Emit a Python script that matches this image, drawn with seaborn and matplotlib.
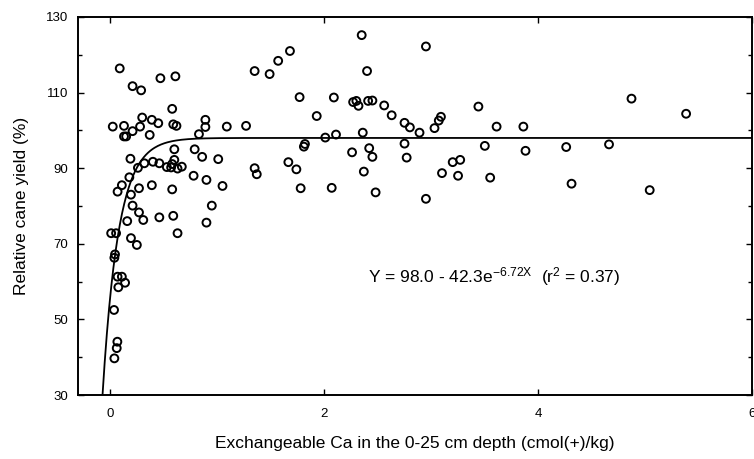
import numpy as np
import pandas as pd
import matplotlib
matplotlib.use("Agg")
import matplotlib.pyplot as plt
import seaborn as sns

# Exchangeable Ca (cmol(+)/kg) and relative cane yield (%) per site
ca_low = [0.09, 0.47, 0.61, 0.21, 0.29, 0.58, 0.025, 0.13, 0.13, 0.15,
          0.21, 0.28, 0.30, 0.39, 0.45, 0.37, 0.59, 0.62, 0.89, 0.89,
          0.83, 1.09, 1.27, 1.35, 0.19, 0.26, 0.32, 0.40, 0.46, 0.53,
          0.58, 0.60, 0.60, 0.63, 0.67, 0.79, 0.86, 1.01, 1.35, 1.37,
          0.07, 0.11, 0.195, 0.18, 0.27, 0.39, 0.58, 0.78, 0.90, 1.05,
          0.21, 0.27, 0.31, 0.16, 0.46, 0.59, 0.95, 0.90, 0.63, 0.01,
          0.056, 0.195, 0.25, 0.046, 0.04, 0.07, 0.11, 0.14, 0.077, 0.037,
          0.068, 0.062, 0.04, 0.57]
yield_low = [116.4, 113.8, 114.3, 111.7, 110.6, 105.7, 101.0, 101.2, 98.4, 98.4,
             99.8, 101.0, 103.4, 102.8, 101.9, 98.8, 101.6, 101.2, 102.8, 100.9,
             99.0, 101.0, 101.2, 115.7, 92.5, 90.1, 91.3, 91.7, 91.3, 90.3,
             91.1, 92.2, 95.0, 89.9, 90.4, 95.0, 93.0, 92.4, 90.0, 88.4,
             83.8, 85.5, 83.0, 87.6, 84.7, 85.5, 84.4, 88.0, 86.9, 85.3,
             80.1, 78.3, 76.3, 76.0, 77.0, 77.4, 80.1, 75.6, 72.8, 72.8,
             72.8, 71.5, 69.7, 67.2, 66.3, 61.3, 61.3, 59.7, 58.5, 52.5,
             44.1, 42.4, 39.7, 90.2]
ca_high = [1.49, 1.57, 1.68, 1.77, 1.93, 2.09, 2.27, 2.30, 2.32, 2.41,
           2.45, 2.35, 2.40, 2.56, 2.63, 2.75, 2.80, 2.89, 2.95, 3.03,
           3.07, 3.09, 3.44, 3.61, 2.01, 2.11, 2.36, 1.82, 1.81, 2.26,
           2.42, 2.45, 2.75, 2.77, 1.665, 1.74, 2.37, 3.20, 3.27, 3.10,
           3.25, 3.50, 3.55, 1.78, 2.07, 2.48, 2.95, 3.86, 3.88, 4.26,
           4.66, 4.87, 5.38, 4.31, 5.04]
yield_high = [114.9, 118.4, 121.0, 108.8, 103.8, 108.7, 107.5, 107.8, 106.5, 107.8,
              107.9, 125.2, 115.7, 106.6, 104.0, 102.0, 100.8, 99.4, 122.2, 100.6,
              102.6, 103.6, 106.3, 101.0, 98.1, 98.9, 99.4, 96.4, 95.7, 94.2,
              95.3, 93.0, 96.5, 92.8, 91.6, 89.7, 89.1, 91.6, 92.2, 88.7,
              88.0, 95.9, 87.5, 84.7, 84.8, 83.6, 81.9, 101.0, 94.6, 95.6,
              96.3, 108.4, 104.4, 85.9, 84.2]

# Fitted model: Y = a - b * exp(-k X)
fit_a, fit_b, fit_k = 98.0, 42.3, 6.72
r_squared = 0.37

x_ticks = [0, 2, 4, 6]
y_ticks = [30, 50, 70, 90, 110, 130]

sns.set_style("ticks")
plt.rcParams["font.family"] = ["Liberation Sans", "DejaVu Sans"]
plt.rcParams["mathtext.fontset"] = "custom"
plt.rcParams["mathtext.rm"] = "Liberation Sans"
plt.rcParams["mathtext.it"] = "Liberation Sans"
plt.rcParams["text.color"] = "black"
plt.rcParams["axes.labelcolor"] = "black"
plt.rcParams["xtick.color"] = "black"
plt.rcParams["ytick.color"] = "black"

points = pd.DataFrame({"ca": ca_low + ca_high, "yield": yield_low + yield_high})

x_start = -np.log((fit_a - 30) / fit_b) / fit_k
x_curve = np.linspace(x_start, 6, 600)
curve = pd.DataFrame({"ca": x_curve, "yield": fit_a - fit_b * np.exp(-fit_k * x_curve)})

fig = plt.figure(figsize=(7.54, 4.59), dpi=100)
ax = fig.add_axes([0.1034, 0.1394, 0.8946, 0.8236])

sns.lineplot(data=curve, x="ca", y="yield", ax=ax, color="black", linewidth=1.3)
sns.scatterplot(data=points, x="ca", y="yield", ax=ax, marker="o", s=32,
                facecolor="none", edgecolor="black", linewidth=1.4, zorder=3)

ax.set_xlim(-0.3, 6)
ax.set_ylim(30, 130)
ax.set_xticks(x_ticks)
ax.set_yticks(y_ticks)
ax.set_yticks(np.arange(30, 131, 10), minor=True)
ax.tick_params(axis="both", which="both", direction="in", top=True, right=True,
               labelsize=9.5, width=1.0, colors="black")
ax.tick_params(which="major", length=4)
ax.tick_params(which="minor", length=3)
ax.tick_params(axis="x", pad=9)
ax.tick_params(axis="y", pad=7)

for side in ["left", "right", "top", "bottom"]:
    ax.spines[side].set_linewidth(1.4)
    ax.spines[side].set_color("black")

ax.set_xlabel("Exchangeable Ca in the 0-25 cm depth (cmol(+)/kg)", fontsize=12.5,
              labelpad=12, color="black")
ax.set_ylabel("Relative cane yield (%)", fontsize=12.5, labelpad=12, color="black")

ax.text(2.41, 59.9,
        rf"Y = {fit_a:.1f} - {fit_b:.1f}e$^{{-{fit_k:.2f}X}}$  (r$^2$ = {r_squared:.2f})",
        fontsize=12.5, ha="left", va="baseline", color="black")

fig.savefig("out.png", dpi=100)
